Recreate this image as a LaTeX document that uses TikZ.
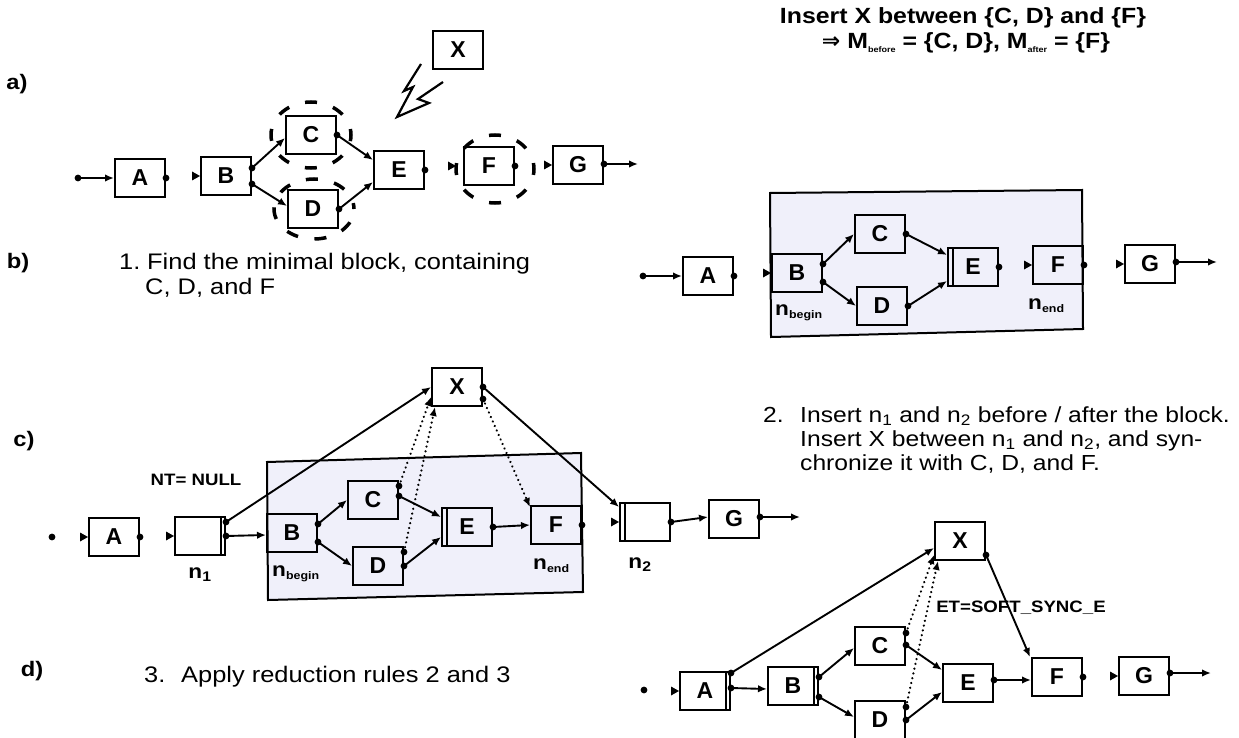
\documentclass[tikz,border=0pt]{standalone}
\usepackage{fontspec}
\setmainfont{Liberation Sans}[FakeStretch=1.13]
\newfontfamily\boxfont{Liberation Sans}
\newfontfamily\symfont{DejaVu Sans}
\usetikzlibrary{arrows.meta,calc}
\definecolor{blockfill}{RGB}{240,240,250}
\newcommand\outp[1]{\fill (#1) circle (3.4pt);}
\newcommand\inp[1]{\fill (#1) -- ++(-8,-4.5) -- ++(0,9) -- cycle;}
\newcommand\edge[3][flow]{\draw[#1] (#2) -- (#3); \fill (#2) circle (3.4pt);}
\newcommand\dbl[2]{\draw[line width=1.3pt] ([xshift=#2]#1.north) -- ([xshift=#2]#1.south);}
\tikzset{
  box/.style={draw, line width=2pt, minimum width=50pt, minimum height=38pt, inner sep=0pt,
    font=\boxfont\bfseries\fontsize{23}{23}\selectfont},
  flow/.style={line width=1.9pt, -{Latex[length=9pt,width=7.5pt]}},
  syncl/.style={line width=2.4pt, dash pattern=on 0.1pt off 4.8pt, line cap=round, -{Latex[length=9pt,width=7.5pt]}},
  hl/.style={line width=3.5pt, dash pattern=on 12pt off 16.7pt, dash phase=6pt},
  txt/.style={font=\fontsize{22.5}{25}\selectfont, inner sep=0pt},
  txtb/.style={font=\fontsize{21.8}{25}\selectfont, inner sep=0pt},
  btxt/.style={font=\bfseries\fontsize{22}{25}\selectfont, inner sep=0pt},
  lbl/.style={font=\bfseries\fontsize{21}{21}\selectfont, inner sep=0pt},
  small/.style={font=\bfseries\fontsize{16.5}{16.5}\selectfont, inner sep=0pt},
  nlab/.style={font=\bfseries\fontsize{20}{20}\selectfont, inner sep=0pt},
  blockst/.style={draw, line width=2pt, fill=blockfill},
}
\begin{document}
\begin{tikzpicture}[x=1pt,y=-1pt]
\fill[white] (0,0) rectangle (1239,738);
\useasboundingbox (0,0) rectangle (1239,738);

% ---------- labels and texts ----------
\node[lbl] (la) at (17,84) {a)};
\node[lbl] (lb) at (18,263) {b)};
\node[lbl] (lc) at (24,441) {c)};
\node[lbl] (ld) at (32,671) {d)};

\node[btxt] (h1) at (963,18) {Insert X between \{C, D\} and \{F\}};
\node[btxt] (h2) at (966,43) {{\symfont\bfseries ⇒} M\raisebox{-4pt}{\fontsize{8}{8}\selectfont before} = \{C, D\}, M\raisebox{-4pt}{\fontsize{8}{8}\selectfont after} = \{F\}};

\node[txt, anchor=base west] (t1n) at (119,269) {1.};
\node[txt, anchor=base west] (t1a) at (147,269) {Find the minimal block, containing};
\node[txt, anchor=base west] (t1b) at (145,294) {C, D, and F};

\node[txtb, anchor=base west] (t2n) at (763,422) {2.};
\node[txtb, anchor=base west] (t2a) at (800,422) {Insert n\textsubscript{1} and n\textsubscript{2} before / after the block.};
\node[txtb, anchor=base west] (t2b) at (800,446) {Insert X between n\textsubscript{1} and n\textsubscript{2}, and syn-};
\node[txtb, anchor=base west] (t2c) at (800,470) {chronize it with C, D, and F.};

\node[txt, anchor=base west] (t3n) at (144,682) {3.};
\node[txt, anchor=base west] (t3a) at (181,682) {Apply reduction rules 2 and 3};

% ---------- a) ----------
\node[box] (Aa) at (140,178) {A};
\node[box] (Ba) at (226,176) {B};
\node[box] (Ca) at (311,135) {C};
\node[box] (Da) at (313,209) {D};
\node[box] (Ea) at (399,170) {E};
\node[box] (Fa) at (489,166) {F};
\node[box] (Ga) at (578,165) {G};
\node[box] (Xa) at (458,50) {X};
\coordinate (ina) at (78,178);
\coordinate (outa) at (638,164);
\edge{ina}{Aa.west}
\outp{Aa.east} \inp{Ba.west}
\edge{[yshift=8pt]Ba.east}{[yshift=-3pt]Ca.west}
\edge{[yshift=-8pt]Ba.east}{[yshift=3pt]Da.west}
\edge{Ca.east}{[yshift=10pt]Ea.west}
\edge{Da.east}{[yshift=-12pt]Ea.west}
\outp{Ea.east} \inp{[xshift=-7pt]Fa.west} \outp{Fa.east} \inp{Ga.west}
\edge{[yshift=1pt]Ga.east}{outa}
\draw[hl] (Ca) ellipse [x radius=40pt, y radius=33pt];
\draw[hl] ([xshift=1pt]Da) ellipse [x radius=40pt, y radius=30pt];
\draw[hl] ([xshift=6pt,yshift=-3pt]Fa) ellipse [x radius=39pt, y radius=34pt];
\draw[line width=2.2pt, line join=miter] (421,64) -- (404,91) -- (413,87) -- (397,117) -- (429,103) -- (418,99) -- (443,82);

% ---------- b) ----------
\filldraw[blockst] (770,193) -- (1082,190) -- (1083,329) -- (771,337) -- cycle;
\coordinate (inb) at (643,276);
\node[box] (Ab) at (708,276) {A};
\node[box] (Bb) at (797,273) {B};
\node[box] (Cb) at (880,234) {C};
\node[box] (Db) at (882,306) {D};
\node[box] (Eb) at (973,267) {E};
\node[box] (Fb) at (1058,265) {F};
\node[box] (Gb) at (1150,264) {G};
\coordinate (outb) at (1217,262);
\dbl{Eb}{-20pt}
\edge{inb}{Ab.west}
\outp{Ab.east} \inp{Bb.west}
\edge{[yshift=9pt]Bb.east}{Cb.west}
\edge{[yshift=-9pt]Bb.east}{Db.west}
\edge{Cb.east}{[yshift=12pt]Eb.west}
\edge{Db.east}{[yshift=-14pt]Eb.west}
\outp{Eb.east} \inp{Fb.west} \outp{Fb.east} \inp{Gb.west}
\edge{[yshift=2pt]Gb.east}{outb}
\node[nlab, anchor=base west] (nbb) at (775,315) {n\raisebox{-3pt}{\fontsize{11}{11}\selectfont begin}};
\node[nlab, anchor=base west] (neb) at (1028,309) {n\raisebox{-3pt}{\fontsize{11}{11}\selectfont end}};

% ---------- c) ----------
\filldraw[blockst] (267,462) -- (581,453) -- (583,592) -- (268,600) -- cycle;
\coordinate (inc) at (52,537);
\fill (inc) circle (3.4pt);
\node[box] (Ac) at (114,537) {A};
\node[box] (N1) at (200,536) {};
\node[box] (Bc) at (292,533) {B};
\node[box] (Cc) at (373,500) {C};
\node[box] (Dc) at (378,566) {D};
\node[box] (Ec) at (467,527) {E};
\node[box] (Fc) at (556,525) {F};
\node[box] (Xc) at (457,387) {X};
\node[box] (N2) at (645,522) {};
\node[box] (Gc) at (734,519) {G};
\coordinate (outc) at (800,517);
\dbl{N1}{21pt} \dbl{Ec}{-20pt} \dbl{N2}{-20pt}
\inp{Ac.west} \outp{Ac.east} \inp{N1.west}
\edge{[yshift=14pt]N1.east}{Xc.west}
\edge{N1.east}{[yshift=-2pt]Bc.west}
\edge{[yshift=9pt]Bc.east}{Cc.west}
\edge{[yshift=-9pt]Bc.east}{Dc.west}
\edge{[yshift=4pt]Cc.east}{[yshift=10pt]Ec.west}
\edge{Dc.east}{[yshift=-10pt]Ec.west}
\edge{Ec.east}{Fc.west}
\outp{Fc.east}
\edge{Xc.east}{[yshift=15pt]N2.west}
\inp{N2.west}
\edge{N2.east}{[yshift=2pt]Gc.west}
\edge{[yshift=2pt]Gc.east}{outc}
\edge[syncl]{[yshift=14pt]Cc.east}{[yshift=-10pt]Xc.west}
\edge[syncl]{[yshift=14pt]Dc.east}{[xshift=4pt]Xc.south west}
\edge[syncl]{[yshift=-12pt]Xc.east}{[yshift=-2pt]Fc.north west}
\node[small] (nt) at (196,480) {NT= NULL};
\node[nlab] (n1l) at (200,575) {n\textsubscript{1}};
\node[nlab] (n2l) at (640,565) {n\textsubscript{2}};
\node[nlab, anchor=base west] (nbc) at (272,576) {n\raisebox{-3pt}{\fontsize{11}{11}\selectfont begin}};
\node[nlab, anchor=base west] (nec) at (533,569) {n\raisebox{-3pt}{\fontsize{11}{11}\selectfont end}};

% ---------- d) ----------
\coordinate (ind) at (644,690);
\fill (ind) circle (3.4pt);
\node[box] (Ad) at (705,691) {A};
\node[box] (Bd) at (793,686) {B};
\node[box] (Cd) at (880,646) {C};
\node[box] (Dd) at (880,720) {D};
\node[box] (Ed) at (968,683) {E};
\node[box] (Fd) at (1057,677) {F};
\node[box] (Gd) at (1144,676) {G};
\node[box] (Xd) at (960,541) {X};
\coordinate (outd) at (1211,673);
\dbl{Ad}{21pt} \dbl{Bd}{21pt}
\inp{Ad.west}
\edge{[yshift=18pt]Ad.east}{[yshift=-7pt]Xd.west}
\edge{[yshift=3pt]Ad.east}{[yshift=-3pt]Bd.west}
\edge{[yshift=9pt]Bd.east}{[yshift=-2pt]Cd.west}
\edge{[yshift=-11pt]Bd.east}{[yshift=3pt]Dd.west}
\edge{[yshift=1pt]Cd.east}{[yshift=13pt]Ed.west}
\edge{Dd.east}{[yshift=-9pt]Ed.west}
\edge{[yshift=3pt]Ed.east}{[yshift=-3pt]Fd.west}
\edge{[yshift=-14pt]Xd.east}{[xshift=-1pt]Fd.north west}
\outp{Fd.east} \inp{Gd.west}
\edge{[yshift=3pt]Gd.east}{outd}
\edge[syncl]{[yshift=13pt]Cd.east}{[yshift=-14pt]Xd.west}
\edge[syncl]{[yshift=13pt]Dd.east}{[xshift=4pt]Xd.south west}
\node[small] (et) at (1021,608) {ET=SOFT\_SYNC\_E};
\end{tikzpicture}
\end{document}
